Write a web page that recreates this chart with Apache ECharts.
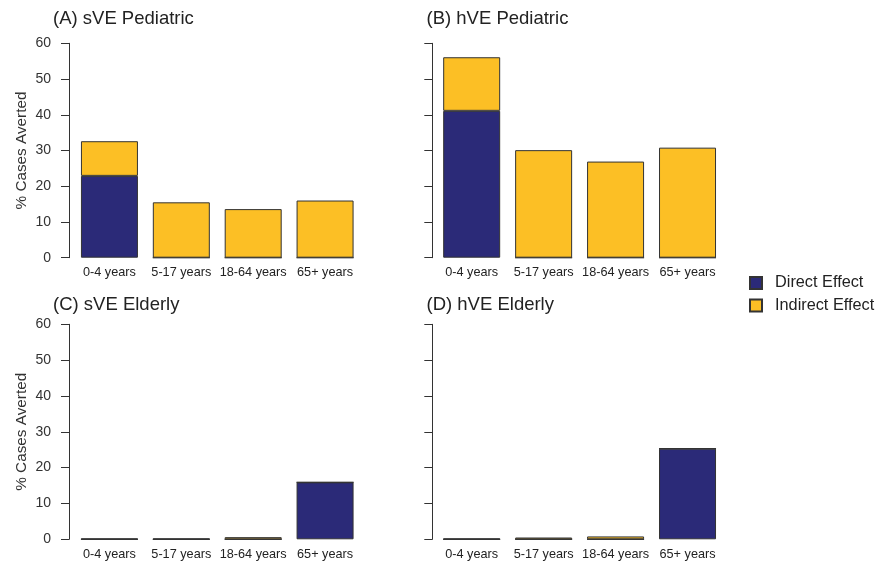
<!DOCTYPE html>
<html>
<head>
<meta charset="utf-8">
<script src="https://cdn.jsdelivr.net/npm/echarts@6/dist/echarts.min.js"></script>
<style>
html,body{margin:0;padding:0;background:#fff;}
#chart{width:877px;height:561px;}
</style>
</head>
<body>
<div id="chart"></div>
<script>
// ---- Data ----
const categories = ['0-4 years', '5-17 years', '18-64 years', '65+ years'];
const panelTitles = ['(A) sVE Pediatric', '(B) hVE Pediatric', '(C) sVE Elderly', '(D) hVE Elderly'];
const seriesNames = ['Direct Effect', 'Indirect Effect'];
const yTickMin = 0, yTickMax = 60, yTickStep = 10;

const directA   = [22.9, 0, 0, 0];
const indirectA = [9.7, 15.5, 13.6, 16.0];
const directB   = [41.1, 0, 0, 0];
const indirectB = [15.0, 30.1, 26.9, 30.8];
const directC   = [0, 0, 0, 15.9];
const indirectC = [0.2, 0.2, 0.6, 0];
const directD   = [0, 0, 0, 25.3];
const indirectD = [0.2, 0.5, 0.8, 0];

const panelData = [[directA, indirectA], [directB, indirectB], [directC, indirectC], [directD, indirectD]];

// ---- Style / layout ----
const colors = ['#2b2a78', '#fcbf25'];
const FONT = 'Liberation Sans, Arial, sans-serif';
const grids = [
  {left: 73.5, top: 43.3, width: 287.5, height: 214.4},
  {left: 435.7, top: 43.3, width: 287.8, height: 214.4},
  {left: 73.5, top: 324.3, width: 287.5, height: 215},
  {left: 435.7, top: 324.3, width: 287.8, height: 215}
];
const axisOffsets = [4.5, 3.4, 4.5, 3.4];
const titlePos = [{left: 53, top: 9}, {left: 426.5, top: 9}, {left: 53, top: 295.5}, {left: 426.5, top: 295.5}];

const option = {
  animation: false,
  backgroundColor: '#fff',
  textStyle: {fontFamily: FONT},
  title: panelTitles.map((t, i) => ({
    text: t, left: titlePos[i].left, top: titlePos[i].top, padding: 0,
    textStyle: {fontFamily: FONT, fontSize: 18.5, fontWeight: 'normal', color: '#222'}
  })),
  legend: {
    data: seriesNames,
    orient: 'vertical',
    left: 749, top: 275,
    padding: 0,
    itemWidth: 12, itemHeight: 12, itemGap: 6.5,
    icon: 'rect',
    textStyle: {fontFamily: FONT, fontSize: 16.3, color: '#222', padding: [0, 0, 0, 8]}
  },
  grid: grids.map(g => Object.assign({containLabel: false}, g)),
  xAxis: grids.map((g, i) => ({
    type: 'category', gridIndex: i, data: categories,
    axisLine: {show: false}, axisTick: {show: false},
    axisLabel: {fontFamily: FONT, fontSize: 12.7, color: '#222', margin: 8.5, interval: 0}
  })),
  yAxis: grids.map((g, i) => ({
    type: 'value', gridIndex: i, min: yTickMin, max: yTickMax, interval: yTickStep,
    offset: axisOffsets[i],
    name: (i % 2 === 0) ? '% Cases Averted' : '',
    nameLocation: 'middle', nameRotate: 90, nameGap: 40,
    nameTextStyle: {fontFamily: FONT, fontSize: 15.3, color: '#333'},
    splitLine: {show: false},
    axisLine: {show: true, lineStyle: {color: '#333', width: 1}},
    axisTick: {show: true, length: 8, lineStyle: {color: '#333'}},
    axisLabel: {show: i % 2 === 0, fontFamily: FONT, fontSize: 14, color: '#333', margin: 18}
  })),
  series: []
};

panelData.forEach((pd, i) => {
  pd.forEach((vals, k) => {
    option.series.push({
      name: seriesNames[k], type: 'bar', xAxisIndex: i, yAxisIndex: i,
      stack: 'p' + i, data: vals, barWidth: 57,
      itemStyle: {color: colors[k], borderColor: '#333', borderWidth: 1}
    });
  });
});

const chart = echarts.init(document.getElementById('chart'), null, {renderer: 'canvas'});
chart.setOption(option);
</script>
</body>
</html>
